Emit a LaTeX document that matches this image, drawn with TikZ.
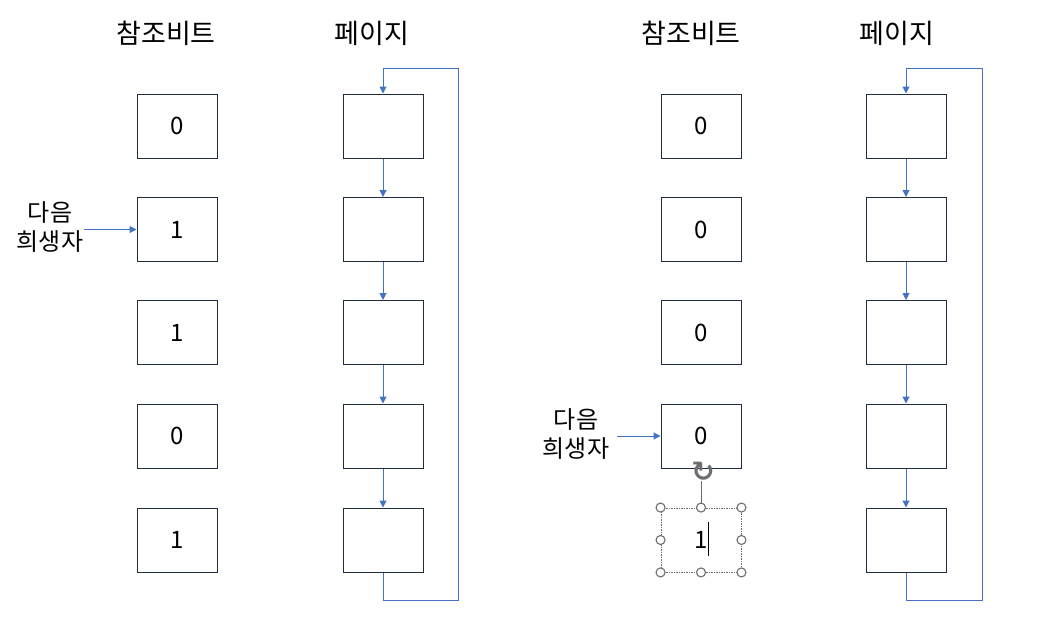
\documentclass[tikz,border=0pt]{standalone}
\usepackage{fontspec}
\setmainfont{Noto Sans CJK KR}
\newfontfamily\symfont{DejaVu Sans}
\usetikzlibrary{arrows.meta}
\definecolor{boxline}{HTML}{1F2D3F}
\definecolor{arrblue}{HTML}{4472C4}
\definecolor{handlegray}{HTML}{6E6E6E}
\tikzset{
  x=1pt,y=-1pt,
  cell/.style={draw=boxline,line width=1pt,minimum width=80pt,minimum height=64pt,inner sep=0pt,
    font=\fontsize{24}{26}\selectfont},
  title/.style={font=\fontsize{27}{30}\selectfont,inner sep=0pt},
  lbl/.style={font=\fontsize{24}{29}\selectfont,align=center,inner sep=0pt},
  link/.style={draw=arrblue,line width=1pt,-{Triangle[length=7pt,width=7pt]}},
  handle/.style={circle,draw=handlegray,fill=white,line width=1.1pt,minimum size=9pt,inner sep=0pt},
}
\begin{document}
\begin{tikzpicture}
\useasboundingbox (0,0) rectangle (1049,632);
% ---------- left ----------
\node[title] (t1) at (166,33) {참조비트};
\node[title] (t2) at (372,33) {페이지};
\node[cell] (b1) at (177,126) {0};
\node[cell] (b2) at (177,229.5) {1};
\node[cell] (b3) at (177,332.5) {1};
\node[cell] (b4) at (177,436) {0};
\node[cell] (b5) at (177,540) {1};
\node[cell] (p1) at (383,126) {};
\node[cell] (p2) at (383,229.5) {};
\node[cell] (p3) at (383,332.5) {};
\node[cell] (p4) at (383,436) {};
\node[cell] (p5) at (383,540) {};
\draw[link] (p1) -- (p2);
\draw[link] (p2) -- (p3);
\draw[link] (p3) -- (p4);
\draw[link] (p4) -- (p5);
\coordinate (l1) at (383,600);
\coordinate (l2) at (458,600);
\coordinate (l3) at (458,68);
\coordinate (l4) at (383,68);
\draw[link] (p5.south) -- (l1) -- (l2) -- (l3) -- (l4) -- (p1.north);
\node[lbl] (v1) at (50,227) {다음\\희생자};
\coordinate (v1s) at (84,229.5);
\draw[link] (v1s) -- (b2.west);
% ---------- right ----------
\node[title] (t3) at (691,33) {참조비트};
\node[title] (t4) at (897,33) {페이지};
\node[cell] (c1) at (701,126) {0};
\node[cell] (c2) at (701,229.5) {0};
\node[cell] (c3) at (701,332.5) {0};
\node[cell] (c4) at (701,436) {0};
\node[cell,draw=handlegray,line width=0.9pt,dash pattern=on 1.5pt off 1pt] (c5) at (701,540) {1};
\draw[black,line width=0.8pt] (708,522) -- (708,556);
\node[cell] (q1) at (906,126) {};
\node[cell] (q2) at (906,229.5) {};
\node[cell] (q3) at (906,332.5) {};
\node[cell] (q4) at (906,436) {};
\node[cell] (q5) at (906,540) {};
\draw[link] (q1) -- (q2);
\draw[link] (q2) -- (q3);
\draw[link] (q3) -- (q4);
\draw[link] (q4) -- (q5);
\coordinate (m1) at (906,600);
\coordinate (m2) at (982,600);
\coordinate (m3) at (982,68);
\coordinate (m4) at (906,68);
\draw[link] (q5.south) -- (m1) -- (m2) -- (m3) -- (m4) -- (q1.north);
\node[lbl] (v2) at (576,434) {다음\\희생자};
\coordinate (v2s) at (617,436);
\draw[link] (v2s) -- (c4.west);
% selection handles
\node[inner sep=0pt,text=handlegray,font=\symfont\bfseries\fontsize{28}{28}\selectfont] (rot) at (703,472) {↻};
\draw[handlegray,line width=1pt] (c5.north) -- (701,481);
\foreach \a in {north west,north,north east,west,east,south west,south,south east}
  \node[handle] at (c5.\a) {};
\end{tikzpicture}
\end{document}
